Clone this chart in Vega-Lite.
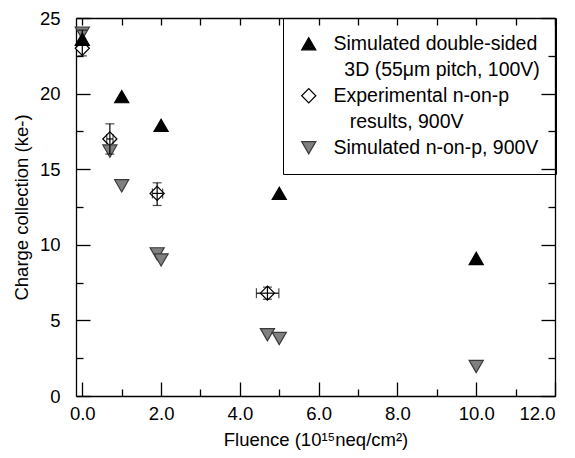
{
  "$schema": "https://vega.github.io/schema/vega-lite/v6.json",
  "width": 479,
  "height": 378,
  "autosize": {"type": "none"},
  "padding": {"left": 76, "top": 18, "right": 20, "bottom": 62},
  "background": "white",
  "config": {
    "font": "Liberation Sans",
    "view": {"stroke": null},
    "axis": {
      "labelFont": "Liberation Sans",
      "titleFont": "Liberation Sans",
      "labelFontSize": 18.5,
      "titleFontSize": 18.5,
      "labelColor": "black",
      "titleColor": "black",
      "titleFontWeight": "normal",
      "domainColor": "black",
      "tickColor": "black",
      "grid": false,
      "domainWidth": 1.3,
      "tickWidth": 1.3
    },
    "legend": {
      "orient": "none", "legendX": 207, "legendY": 0, "padding": 16, "strokeColor": "black",
      "labelFont": "Liberation Sans", "labelFontSize": 19.5, "labelColor": "black", "labelLimit": 400,
      "symbolSize": 200, "symbolStrokeWidth": 1.2, "labelOffset": 15, "rowPadding": 5
    }
  },
  "data": {
    "values": [
      {"series": "Experimental n-on-p", "fluence": 0, "charge": 23.0, "yLo": 22.5, "yHi": 24.2},
      {"series": "Experimental n-on-p", "fluence": 0.7, "charge": 17.0, "yLo": 16.0, "yHi": 18.0, "xLo": 0.62, "xHi": 0.78},
      {"series": "Experimental n-on-p", "fluence": 1.9, "charge": 13.4, "yLo": 12.6, "yHi": 14.1, "xLo": 1.78, "xHi": 2.04},
      {"series": "Experimental n-on-p", "fluence": 4.7, "charge": 6.8, "yLo": 6.4, "yHi": 7.2, "xLo": 4.42, "xHi": 4.99},
      {"series": "Simulated n-on-p, 900V", "fluence": 0, "charge": 24.0},
      {"series": "Simulated n-on-p, 900V", "fluence": 0.7, "charge": 16.2},
      {"series": "Simulated n-on-p, 900V", "fluence": 1.0, "charge": 13.9},
      {"series": "Simulated n-on-p, 900V", "fluence": 1.9, "charge": 9.4},
      {"series": "Simulated n-on-p, 900V", "fluence": 2.0, "charge": 9.0},
      {"series": "Simulated n-on-p, 900V", "fluence": 4.7, "charge": 4.05},
      {"series": "Simulated n-on-p, 900V", "fluence": 5.0, "charge": 3.8},
      {"series": "Simulated n-on-p, 900V", "fluence": 10.0, "charge": 1.95},
      {"series": "Simulated double-sided", "fluence": 0, "charge": 23.6},
      {"series": "Simulated double-sided", "fluence": 1, "charge": 19.8},
      {"series": "Simulated double-sided", "fluence": 2, "charge": 17.9},
      {"series": "Simulated double-sided", "fluence": 5, "charge": 13.4},
      {"series": "Simulated double-sided", "fluence": 10, "charge": 9.1}
    ]
  },
  "layer": [
    {
      "mark": {"type": "point", "filled": true, "opacity": 1, "strokeWidth": 1.2, "size": 200},
      "encoding": {
        "x": {
          "field": "fluence", "type": "quantitative",
          "scale": {"domain": [-0.16, 12], "nice": false, "zero": false},
          "axis": {"orient": "bottom", "values": [0, 2, 4, 6, 8, 10, 12], "format": ".1f", "tickSize": -14, "labelPadding": 22, "title": "Fluence (10\u00b9\u2075neq/cm\u00b2)", "titlePadding": 8}
        },
        "y": {
          "field": "charge", "type": "quantitative",
          "scale": {"domain": [0, 25], "nice": false, "zero": false},
          "axis": {"orient": "left", "values": [0, 5, 10, 15, 20, 25], "tickSize": -14, "labelPadding": 30, "title": "Charge collection (ke-)", "titlePadding": 8}
        },
        "shape": {
          "field": "series", "type": "nominal",
          "scale": {"domain": ["Simulated double-sided", "\u200d\u00a0\u00a03D (55\u03bcm pitch, 100V)", "Experimental n-on-p", "\u200d\u00a0\u00a0\u00a0results, 900V", "Simulated n-on-p, 900V"], "range": ["triangle-up", "circle", "diamond", "circle", "triangle-down"]},
          "legend": {"title": null}
        },
        "fill": {
          "field": "series", "type": "nominal",
          "scale": {"domain": ["Simulated double-sided", "\u200d\u00a0\u00a03D (55\u03bcm pitch, 100V)", "Experimental n-on-p", "\u200d\u00a0\u00a0\u00a0results, 900V", "Simulated n-on-p, 900V"], "range": ["black", "transparent", "white", "transparent", "#808080"]},
          "legend": {"title": null}
        },
        "stroke": {
          "field": "series", "type": "nominal",
          "scale": {"domain": ["Simulated double-sided", "\u200d\u00a0\u00a03D (55\u03bcm pitch, 100V)", "Experimental n-on-p", "\u200d\u00a0\u00a0\u00a0results, 900V", "Simulated n-on-p, 900V"], "range": ["black", "transparent", "black", "transparent", "#3a3a3a"]},
          "legend": {"title": null}
        }
      }
    },
    {
      "transform": [{"filter": "isValid(datum.yLo)"}],
      "mark": {"type": "errorbar", "color": "black", "thickness": 1.2, "ticks": {"size": 9, "color": "black", "strokeWidth": 1.2}},
      "encoding": {
        "x": {"field": "fluence", "type": "quantitative", "axis": null},
        "y": {"field": "yLo", "type": "quantitative", "axis": null},
        "y2": {"field": "yHi"}
      }
    },
    {
      "transform": [{"filter": "isValid(datum.xLo)"}],
      "mark": {"type": "errorbar", "color": "black", "thickness": 1.2, "ticks": {"size": 10, "color": "black", "strokeWidth": 1.2}},
      "encoding": {
        "y": {"field": "charge", "type": "quantitative", "axis": null},
        "x": {"field": "xLo", "type": "quantitative", "axis": null},
        "x2": {"field": "xHi"}
      }
    },
    {
      "mark": {"type": "point", "opacity": 0},
      "encoding": {
        "x": {"field": "fluence", "type": "quantitative", "axis": {"orient": "bottom", "values": [1, 3, 5, 7, 9, 11], "tickSize": -7, "labels": false, "domain": false, "title": null}},
        "y": {"field": "charge", "type": "quantitative", "axis": {"orient": "left", "values": [2.5, 7.5, 12.5, 17.5, 22.5], "tickSize": -7, "labels": false, "domain": false, "title": null}}
      }
    },
    {
      "mark": {"type": "point", "opacity": 0},
      "encoding": {
        "x": {"field": "fluence", "type": "quantitative", "axis": {"orient": "top", "values": [0, 1, 2, 3, 4, 5, 6, 7, 8, 9, 10, 11, 12], "tickSize": -7, "labels": false, "title": null}},
        "y": {"field": "charge", "type": "quantitative", "axis": {"orient": "right", "values": [0, 5, 10, 15, 20, 25], "tickSize": -14, "labels": false, "title": null}}
      }
    },
    {
      "mark": {"type": "point", "opacity": 0},
      "encoding": {
        "x": {"field": "fluence", "type": "quantitative", "axis": null},
        "y": {"field": "charge", "type": "quantitative", "axis": {"orient": "right", "values": [2.5, 7.5, 12.5, 17.5, 22.5], "tickSize": -7, "labels": false, "domain": false, "title": null}}
      }
    }
  ],
  "resolve": {"axis": {"x": "independent", "y": "independent"}}
}
